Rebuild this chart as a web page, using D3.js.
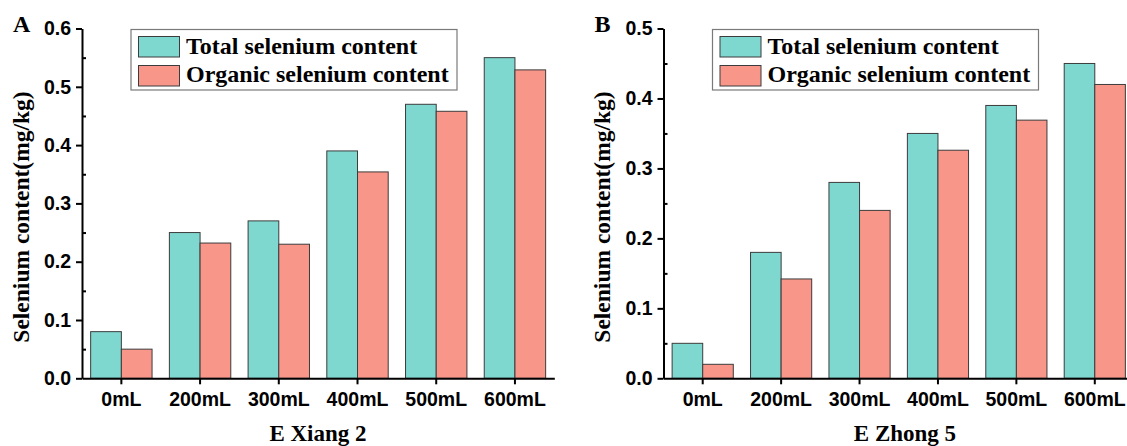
<!DOCTYPE html>
<html>
<head>
<meta charset="utf-8">
<script src="https://cdn.jsdelivr.net/npm/d3@7"></script>
<style>
  body { margin: 0; background: #fff; }
  svg { display: block; background: #fff; }
  .tick text { font-family: "Liberation Sans", Arial, sans-serif; font-weight: bold; font-size: 19.5px; fill: #000; }
  .serif { font-family: "Liberation Serif", "Times New Roman", serif; font-weight: bold; fill: #000; }
</style>
</head>
<body>
<svg width="1127" height="446"></svg>
<script>
// data
var categories = ["0mL", "200mL", "300mL", "400mL", "500mL", "600mL"];
var seriesNames = ["Total selenium content", "Organic selenium content"];

var xiangTotal   = [0.08, 0.25, 0.27, 0.39, 0.47, 0.55];
var xiangOrganic = [0.05, 0.232, 0.23, 0.354, 0.458, 0.529];

var zhongTotal   = [0.05, 0.18, 0.28, 0.35, 0.39, 0.45];
var zhongOrganic = [0.02, 0.142, 0.24, 0.326, 0.369, 0.42];

var xiangTicks = [0, 0.1, 0.2, 0.3, 0.4, 0.5, 0.6];
var zhongTicks = [0, 0.1, 0.2, 0.3, 0.4, 0.5];

var colors = ["#7fd8cf", "#f89689"];

var svg = d3.select("svg");

function drawPanel(p) {
    var g = svg.append("g");

    var x = d3.scaleBand()
        .domain(categories)
        .range([p.left, p.right])
        .paddingInner(0.22)
        .paddingOuter(0.11);

    var x1 = d3.scaleBand()
        .domain([0, 1])
        .range([0, x.bandwidth()]);

    var y = d3.scaleLinear()
        .domain([0, p.ymax])
        .range([378.3, 28.5]);

    // bars
    var series = [p.total, p.organic];
    series.forEach(function(vals, s) {
        g.selectAll(".bar" + s)
            .data(vals)
            .enter().append("rect")
            .attr("x", function(d, i) { return x(categories[i]) + x1(s); })
            .attr("y", function(d) { return y(d); })
            .attr("width", x1.bandwidth())
            .attr("height", function(d) { return y(0) - y(d); })
            .style("fill", colors[s])
            .style("stroke", "#3c3c3c")
            .style("stroke-width", 1);
    });

    // minor ticks, inside
    var minor = d3.range(0.05, p.ymax, 0.1);
    var ym = g.append("g")
        .attr("transform", "translate(" + p.left + ",0)")
        .call(d3.axisRight(y).tickValues(minor).tickSize(4).tickFormat(""));
    ym.select(".domain").remove();
    ym.selectAll("line").style("stroke", "#000").style("stroke-width", 2);

    // y axis
    var ya = g.append("g")
        .attr("transform", "translate(" + p.left + ",0)")
        .call(d3.axisLeft(y).tickValues(p.ticks).tickFormat(d3.format(".1f"))
            .tickSize(6).tickSizeOuter(0).tickPadding(5));
    ya.select(".domain").style("stroke", "#000").style("stroke-width", 2);
    ya.selectAll("line").style("stroke", "#000").style("stroke-width", 2);

    // x axis
    var xa = g.append("g")
        .attr("transform", "translate(0," + y(0) + ")")
        .call(d3.axisBottom(x).tickSize(6).tickSizeOuter(0).tickPadding(8));
    xa.select(".domain").style("stroke", "#000").style("stroke-width", 2);
    xa.selectAll("line").style("stroke", "#000").style("stroke-width", 2);

    // axis titles
    g.append("text")
        .attr("class", "serif")
        .attr("transform", "translate(" + (p.left - 53.5) + ",217) rotate(-90)")
        .attr("text-anchor", "middle")
        .style("font-size", "23.5px")
        .text("Selenium content(mg/kg)");

    g.append("text")
        .attr("class", "serif")
        .attr("x", p.titleX)
        .attr("y", 440.5)
        .attr("text-anchor", "middle")
        .style("font-size", "23px")
        .text(p.title);

    // panel letter
    g.append("text")
        .attr("class", "serif")
        .attr("x", p.left - 69)
        .attr("y", 32)
        .style("font-size", "24px")
        .text(p.letter);

    // legend
    var lx = p.left + 49, ly = 29.5;
    g.append("rect")
        .attr("x", lx).attr("y", ly)
        .attr("width", 326).attr("height", 60.5)
        .style("fill", "#fff")
        .style("stroke", "#7a7a7a")
        .style("stroke-width", 1.2);

    seriesNames.forEach(function(name, s) {
        g.append("rect")
            .attr("x", lx + 7.5)
            .attr("y", ly + 7 + s * 29)
            .attr("width", 41)
            .attr("height", 20.5)
            .style("fill", colors[s])
            .style("stroke", "#3c3c3c")
            .style("stroke-width", 1);
        g.append("text")
            .attr("class", "serif")
            .attr("x", lx + 55)
            .attr("y", ly + 24 + s * 28.5)
            .style("font-size", "24px")
            .text(name);
    });
}

drawPanel({
    left: 82, right: 554.3, ymax: 0.6, ticks: xiangTicks,
    total: xiangTotal, organic: xiangOrganic,
    title: "E Xiang 2", titleX: 318, letter: "A"
});

drawPanel({
    left: 663.5, right: 1134, ymax: 0.5, ticks: zhongTicks,
    total: zhongTotal, organic: zhongOrganic,
    title: "E Zhong 5", titleX: 905, letter: "B"
});
</script>
</body>
</html>
